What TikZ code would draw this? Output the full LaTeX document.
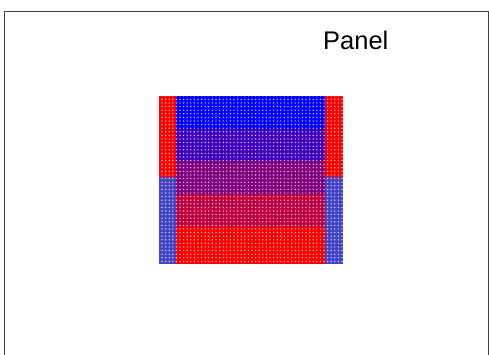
\documentclass[tikz,border=0pt]{standalone}
\usepackage{fontspec}
\setmainfont{Liberation Sans}
\usetikzlibrary{patterns.meta}
\definecolor{cA}{RGB}{0,0,255}
\definecolor{cB}{RGB}{64,0,192}
\definecolor{cC}{RGB}{128,0,128}
\definecolor{cD}{RGB}{192,0,64}
\definecolor{cE}{RGB}{255,0,0}
\definecolor{cS}{RGB}{68,68,200}
\tikzset{
  band/.style={fill=#1, draw=none},
  dotty/.style={pattern={Dots[distance=3.6pt, radius=0.65pt]}, pattern color=white},
  frameline/.style={draw=black!75, line width=1pt}
}
\begin{document}
\begin{tikzpicture}[x=1pt,y=-1pt]
\useasboundingbox (0,0) rectangle (489,355);
\fill[white] (0,0) rectangle (489,355);
% frame (open at bottom)
\draw[frameline] (4.5,360) -- (4.5,11.5) -- (488,11.5) -- (488,360);
% left stripe
\path[band=cE] (159,96) rectangle (176,177);
\path[band=cS] (159,177) rectangle (176,264);
% right stripe
\path[band=cE] (325,96) rectangle (343,177);
\path[band=cS] (325,177) rectangle (343,264);
% central bands
\path[band=cA] (176,96) rectangle (325,129);
\path[band=cB] (176,129) rectangle (325,161);
\path[band=cC] (176,161) rectangle (325,194);
\path[band=cD] (176,194) rectangle (325,227);
\path[band=cE] (176,227) rectangle (325,264);
% dot overlay
\path[dotty] (159,96) rectangle (343,264);
% label
\node[anchor=base west, inner sep=0pt, font=\fontsize{25.5}{30}\selectfont] (panel) at (323,49.5) {Panel};
\end{tikzpicture}
\end{document}
